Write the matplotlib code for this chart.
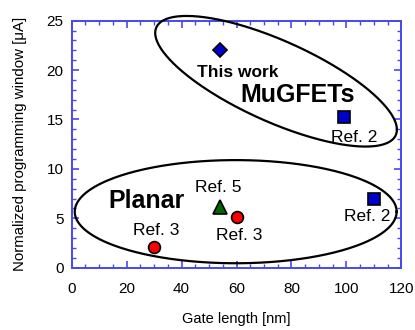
import numpy as np
import matplotlib
matplotlib.use("Agg")
import matplotlib.pyplot as plt
from matplotlib.ticker import MultipleLocator

plt.rcParams['font.family'] = ['Liberation Sans', 'DejaVu Sans']

# data
this_work_x, this_work_y = [54], [22]
ref2_x, ref2_y = [99, 110], [15.3, 7.0]
ref3_x, ref3_y = [30, 60], [2.1, 5.1]
ref5_x, ref5_y = [54], [6.1]

# labels: (text, x, y)
ref_labels = [("Ref. 2", 103, 13.2), ("Ref. 2", 107.5, 5.2), ("Ref. 5", 53.4, 8.1),
              ("Ref. 3", 30.9, 3.77), ("Ref. 3", 61.0, 3.23)]
group_labels = [("MuGFETs", 82.3, 17.5), ("Planar", 27.3, 6.7)]

axis_blue = '#4848f0'

fig = plt.figure(figsize=(4.15, 3.3), dpi=100)
ax = fig.add_axes([0.1728, 0.1888, 0.7942, 0.7485])

ax.plot(ref2_x, ref2_y, 's', ms=8.5, mfc='#0000cc', mec='black', mew=1.2, zorder=5)
ax.plot(this_work_x, this_work_y, 'D', ms=7.5, mfc='#0000cc', mec='black', mew=1.2, zorder=5)
ax.plot(ref3_x, ref3_y, 'o', ms=8.5, mfc='#ff0000', mec='black', mew=1.2, zorder=5)
ax.plot(ref5_x, ref5_y, '^', ms=10, mfc='#006600', mec='black', mew=1.2, zorder=5)

# ellipses (drawn in data coordinates)
t = np.linspace(0, 2 * np.pi, 400)
# planar group (axis aligned)
pcx, pcy, phx, phy = 59.7, 5.67, 58.6, 5.22
ax.plot(pcx + phx * np.cos(t), pcy + phy * np.sin(t), color='black', lw=1.6, clip_on=False, zorder=3)
# MuGFET group (tilted)
mcx, mcy, mhx, mhy, rho = 74.4, 18.87, 44.0, 6.61, -0.74
ax.plot(mcx + mhx * np.cos(t),
        mcy + mhy * (rho * np.cos(t) + np.sqrt(1 - rho ** 2) * np.sin(t)),
        color='black', lw=1.6, clip_on=False, zorder=3)

for txt, x, y in ref_labels:
    ax.text(x, y, txt, fontsize=12.5, ha='center', va='center', zorder=6)
ax.text(60.5, 19.8, "This work", fontsize=12.5, fontweight='bold', ha='center', va='center', zorder=6)
for txt, x, y in group_labels:
    ax.text(x, y, txt, fontsize=18, fontweight='bold', ha='center', va='center', zorder=6)

ax.set_xlim(0, 120)
ax.set_ylim(0, 25)
ax.xaxis.set_major_locator(MultipleLocator(20))
ax.xaxis.set_minor_locator(MultipleLocator(5))
ax.yaxis.set_major_locator(MultipleLocator(5))
ax.yaxis.set_minor_locator(MultipleLocator(1))
ax.tick_params(which='both', direction='in', top=True, right=True, color=axis_blue,
               labelsize=11, labelcolor='black')
ax.tick_params(which='major', length=5, width=1.2)
ax.tick_params(which='minor', length=3, width=1.0)
ax.tick_params(axis='x', which='major', pad=10)
ax.tick_params(axis='y', which='major', pad=6)
for sp in ax.spines.values():
    sp.set_color(axis_blue)
    sp.set_linewidth(1.4)

ax.set_xlabel("Gate length [nm]", fontsize=10.5, labelpad=12)
ax.set_ylabel("Normalized programming window [μA]", fontsize=10.8, labelpad=14)

fig.savefig("out.png", dpi=100)
